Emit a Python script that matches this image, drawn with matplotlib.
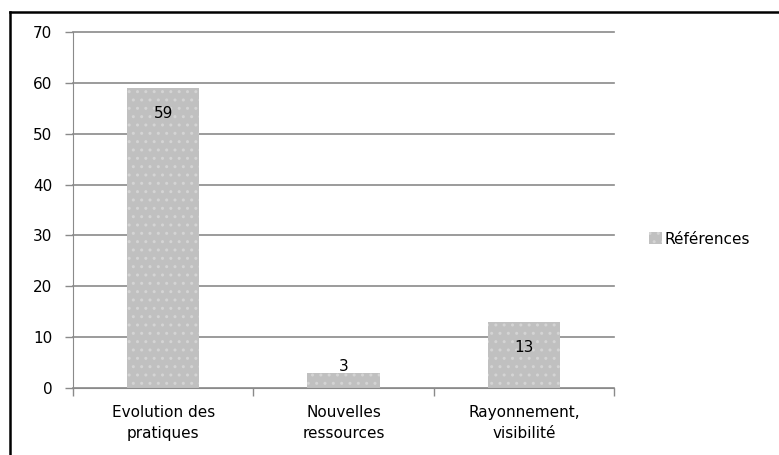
import matplotlib.pyplot as plt
from matplotlib.lines import Line2D
import numpy as np

categories = ["Evolution des\npratiques", "Nouvelles\nressources", "Rayonnement,\nvisibilité"]
values = [59, 3, 13]
series_name = "Références"
yticks = [0, 10, 20, 30, 40, 50, 60, 70]

fs = 11

fig = plt.figure(figsize=(7.79, 4.55), dpi=100)
ax = fig.add_axes([73 / 779, 1 - 388 / 455, (614 - 73) / 779, (388 - 32) / 455])

x = np.arange(len(categories))
bars = ax.bar(x, values, width=0.4, color="#c0c0c0", edgecolor="#d4d4d4",
              linewidth=0, hatch="..", label=series_name, zorder=3)

# value labels
ax.text(x[0], values[0] - 5.0, str(values[0]), ha="center", va="center", fontsize=fs, zorder=4)
ax.text(x[1], values[1] + 1.2, str(values[1]), ha="center", va="center", fontsize=fs, zorder=4)
ax.text(x[2], values[2] - 5.0, str(values[2]), ha="center", va="center", fontsize=fs, zorder=4)

ax.set_xlim(-0.5, len(categories) - 0.5)
ax.set_ylim(0, 70)
ax.set_yticks(yticks)
ax.yaxis.grid(True, color="#8a8a8a", linewidth=1.2, zorder=0)
for gl in ax.get_ygridlines():
    gl.set_clip_on(False)

ax.set_xticks(x)
ax.set_xticklabels(categories, fontsize=fs, linespacing=1.5)
ax.tick_params(axis="x", length=0, pad=12)
ax.set_xticks(np.arange(len(categories) + 1) - 0.5, minor=True)
ax.tick_params(axis="x", which="minor", length=6, color="#8a8a8a", width=1)
ax.tick_params(axis="y", length=6, color="#8a8a8a", width=1, labelsize=fs, pad=9)

for s in ["top", "right"]:
    ax.spines[s].set_visible(False)
ax.spines["left"].set_color("#8a8a8a")
ax.spines["bottom"].set_color("#8a8a8a")
ax.spines["bottom"].set_zorder(5)

fig.legend(handles=[bars], labels=[series_name], loc="center left",
           bbox_to_anchor=(635 / 779, 1 - 239 / 455), frameon=False,
           fontsize=fs, handlelength=0.85, handleheight=0.85, handletextpad=0.2)

# outer chart border (left and top)
fig.add_artist(Line2D([10 / 779, 10 / 779], [0, 1 - 12 / 455], color="black", linewidth=1.8,
                      transform=fig.transFigure))
fig.add_artist(Line2D([10 / 779, 1], [1 - 12 / 455, 1 - 12 / 455], color="black", linewidth=1.8,
                      transform=fig.transFigure))

fig.savefig("out.png", dpi=100)
